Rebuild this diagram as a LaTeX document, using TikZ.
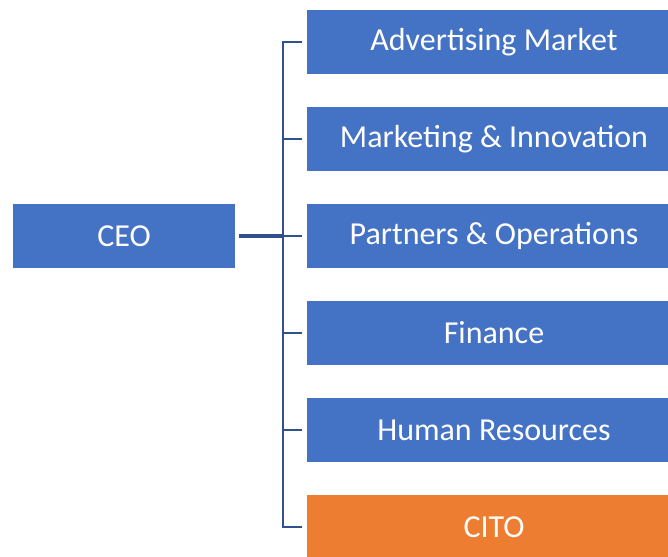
\documentclass[tikz,border=0pt]{standalone}
\usepackage{fontspec}
\setmainfont{Carlito}
\usetikzlibrary{positioning, calc}
\definecolor{boxblue}{RGB}{68,114,196}
\definecolor{boxorange}{RGB}{237,125,49}
\definecolor{linkblue}{RGB}{47,82,143}

\begin{document}
\begin{tikzpicture}[x=1pt,y=-1pt,
    unit/.style={fill=boxblue, text=white, inner sep=0pt, minimum width=374pt, minimum height=64pt, font=\fontsize{32}{38}\selectfont},
    head/.style={unit, minimum width=222pt},
    link/.style={draw=linkblue, line width=2.5pt, shorten >=4.5pt}]
    \useasboundingbox (0,0) rectangle (668,556);
    \clip (0,0) rectangle (668,556);

    \node [head] (ceo) at (124,236) { CEO };
    \node [unit] (adv) at (494,42) { Advertising Market };
    \node [unit] (mkt) at (494,139) { Marketing \& Innovation };
    \node [unit] (ops) at (494,236) { Partners \& Operations };
    \node [unit] (fin) at (494,333) { Finance };
    \node [unit] (hr) at (494,430) { Human Resources };
    \node [unit, fill=boxorange] (cito) at (494,527) { CITO };
    \coordinate (spine) at (283,0);

    \draw [link, shorten <=4.5pt] (adv.west) -- (adv.west -| spine) -- (cito.west -| spine) -- (cito.west);
    \draw [link] (mkt.west -| spine) -- (mkt.west);
    \draw [link] (ops.west -| spine) -- (ops.west);
    \draw [link] (fin.west -| spine) -- (fin.west);
    \draw [link] (hr.west -| spine) -- (hr.west);
    \draw [link, line width=3.2pt, shorten <=4pt, shorten >=0pt] (ceo.east) -- (ceo.east -| spine);
  \end{tikzpicture}
\end{document}
